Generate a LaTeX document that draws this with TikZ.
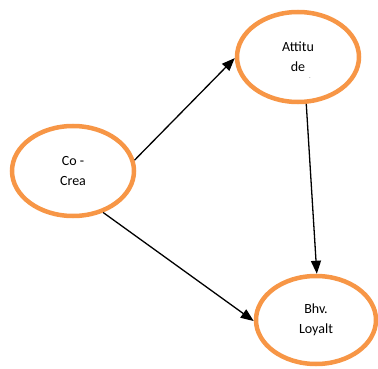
\documentclass[tikz,border=0pt]{standalone}
\usepackage{fontspec}
\setmainfont{Carlito}
\usetikzlibrary{shapes.geometric,arrows.meta}
\definecolor{orng}{HTML}{F79646}
\begin{document}
\begin{tikzpicture}[x=1pt,y=-1pt,
  oval/.style={ellipse,draw=orng,line width=4.5pt,fill=white,inner sep=0pt,
    minimum width=122pt,minimum height=90pt,align=center,
    font=\fontsize{14}{20}\selectfont},
  conn/.style={line width=1.3pt,-{Triangle[length=13pt,width=10pt]}}]
\useasboundingbox (0,0) rectangle (378,369);
\node[oval] (cc) at (73,171) {Co -\\Crea};
\node[oval] (at) at (298,57) {Attitu\\de};
\node[oval,minimum width=120pt,minimum height=88pt] (bl) at (316,320) {Bhv.\\Loyalt};
\node[font=\fontsize{5}{5}\selectfont,inner sep=0pt] (dot) at (310,78) {.};
\draw[conn] (cc.10) -- (at.181);
\draw[conn] (at.-80) -- (bl.89);
\draw[conn] (cc.-54) -- (bl.181);
\end{tikzpicture}
\end{document}
